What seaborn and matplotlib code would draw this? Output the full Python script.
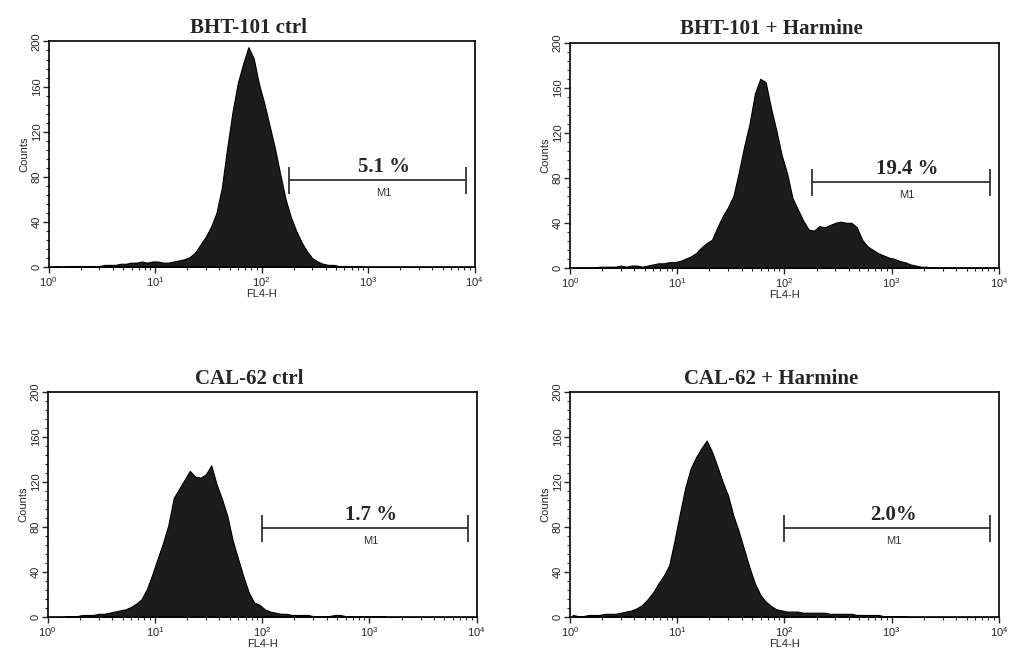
import numpy as np
import pandas as pd
import matplotlib
matplotlib.use("Agg")
import matplotlib.pyplot as plt
from matplotlib.ticker import MultipleLocator
import seaborn as sns

sns.set_style("ticks")
plt.rcParams['font.family'] = ['Liberation Sans', 'DejaVu Sans']

# FL4-H histograms, 20 channels per decade from 10^0 to 10^4
titles = ["BHT-101 ctrl", "BHT-101 + Harmine", "CAL-62 ctrl", "CAL-62 + Harmine"]

bht_ctrl = [0, 1, 0, 1, 1, 1, 1, 1, 1, 1, 2, 2, 2, 3, 3, 4, 4, 5, 4, 5,
            5, 4, 4, 5, 6, 7, 9, 13, 20, 27, 36, 48, 70, 105, 137, 163, 180, 195, 185, 162,
            145, 125, 105, 82, 60, 44, 32, 22, 14, 8, 5, 3, 2, 2, 1, 1, 1, 1, 1, 0,
            0, 0, 0, 0, 0, 0, 0, 0, 0, 0, 0, 0, 0, 0, 0, 0, 0, 0, 0, 0]
bht_harm = [0, 0, 0, 0, 0, 1, 1, 1, 1, 2, 1, 2, 2, 1, 2, 3, 4, 4, 5, 5,
            6, 8, 10, 13, 18, 22, 25, 36, 46, 54, 64, 85, 108, 128, 155, 168, 165, 142, 122, 100,
            84, 62, 52, 42, 34, 33, 37, 36, 38, 40, 41, 40, 40, 36, 25, 19, 16, 13, 11, 9,
            8, 6, 5, 3, 2, 1, 1, 0, 0, 0, 0, 0, 0, 0, 0, 0, 0, 0, 0, 0]
cal_ctrl = [0, 0, 0, 1, 1, 1, 2, 2, 2, 3, 3, 4, 5, 6, 7, 9, 12, 16, 25, 38,
            52, 66, 82, 106, 114, 122, 130, 125, 124, 127, 135, 118, 105, 90, 68, 52, 36, 22, 13, 11,
            7, 5, 4, 3, 3, 2, 2, 2, 2, 1, 1, 1, 1, 2, 2, 1, 1, 1, 1, 1,
            1, 1, 1, 0, 0, 0, 0, 0, 0, 0, 0, 0, 0, 0, 0, 0, 0, 0, 0, 0]
cal_harm = [2, 1, 1, 2, 2, 2, 3, 3, 3, 4, 5, 6, 8, 11, 16, 22, 30, 37, 46, 68,
            92, 115, 132, 142, 150, 157, 147, 134, 120, 108, 90, 76, 60, 44, 30, 20, 14, 10, 7, 6,
            5, 5, 5, 4, 4, 4, 4, 4, 3, 3, 3, 3, 3, 2, 2, 2, 2, 2, 1, 1,
            1, 1, 1, 0, 0, 0, 0, 0, 0, 0, 0, 0, 0, 0, 0, 0, 0, 0, 0, 0]
counts = [bht_ctrl, bht_harm, cal_ctrl, cal_harm]

# M1 marker gates and the percentage inside
gate_lo = [180, 180, 100, 100]
gate_hi = [8240, 8240, 8240, 8240]
gate_y = [77, 76, 79, 79]
percents = ["5.1 %", "19.4 %", "1.7 %", "2.0%"]

channel_log = np.arange(80) * 0.05 + 0.025
fl4 = 10 ** channel_log

fig = plt.figure(figsize=(10.14, 6.58), dpi=100)
positions = [[0.048, 0.594, 0.420, 0.343], [0.562, 0.593, 0.423, 0.342],
             [0.047, 0.062, 0.423, 0.342], [0.562, 0.062, 0.423, 0.342]]

for i in range(4):
    ax = fig.add_axes(positions[i])
    df = pd.DataFrame({'FL4-H': fl4, 'Counts': counts[i]})
    sns.histplot(data=df, x='FL4-H', weights='Counts', binwidth=0.05, binrange=(0, 4),
                 log_scale=True, element='poly', fill=True, color='#1c1c1c', alpha=1,
                 edgecolor='black', linewidth=0.8, ax=ax)
    ax.set_xlim(1, 1e4)
    ax.set_ylim(0, 200)
    ax.set_yticks([0, 40, 80, 120, 160, 200])
    ax.yaxis.set_minor_locator(MultipleLocator(8))
    ax.tick_params(axis='both', which='major', labelsize=8, length=4, width=1, direction='out')
    ax.tick_params(axis='both', which='minor', length=2.5, width=0.8, direction='out')
    ax.tick_params(axis='x', pad=2)
    ax.tick_params(axis='y', pad=1)
    plt.setp(ax.get_yticklabels(), rotation=90, va='center')
    for s in ax.spines.values():
        s.set_visible(True)
        s.set_linewidth(1.2)
        s.set_color('black')
    ax.set_xlabel('FL4-H', fontsize=8, labelpad=0)
    ax.set_ylabel('Counts', fontsize=8, labelpad=2)
    ax.set_title(titles[i], fontsize=15, fontweight='bold', family='Liberation Serif',
                 x=0.47, pad=6)

    # M1 gate
    ax.plot([gate_lo[i], gate_hi[i]], [gate_y[i], gate_y[i]], color='#333333', lw=1.3)
    ax.vlines([gate_lo[i], gate_hi[i]], gate_y[i] - 12, gate_y[i] + 12, color='#333333', lw=1.3)
    mid = 10 ** ((np.log10(gate_lo[i]) + np.log10(gate_hi[i])) / 2 + 0.06)
    ax.text(mid, gate_y[i] + 7, percents[i], fontsize=15, fontweight='bold',
            family='Liberation Serif', ha='center', va='baseline')
    ax.text(mid, gate_y[i] - 11, 'M1', fontsize=8, ha='center', va='center', color='#333333')

fig.savefig('out.png', dpi=100)
